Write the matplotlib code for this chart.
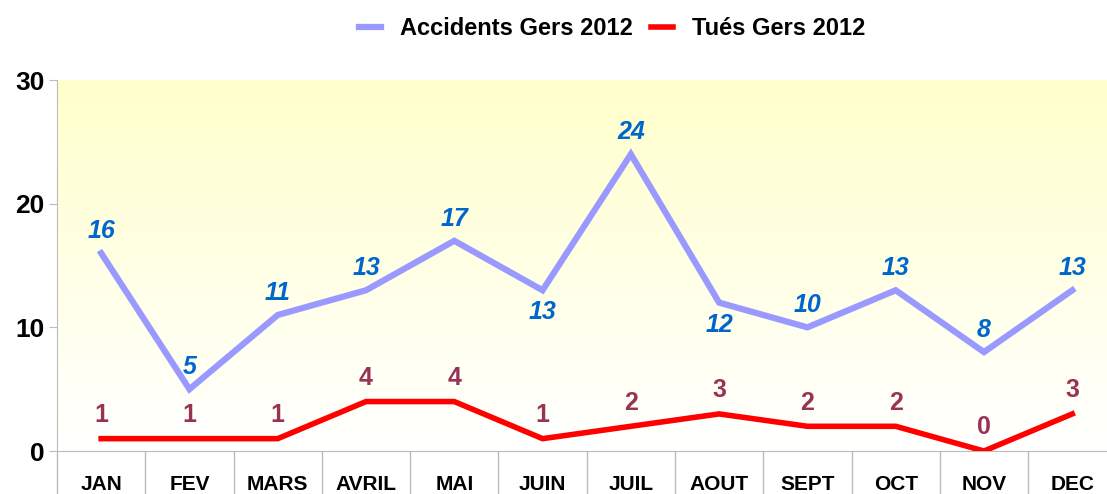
import numpy as np
import matplotlib.pyplot as plt

# Données
mois = ['JAN', 'FEV', 'MARS', 'AVRIL', 'MAI', 'JUIN', 'JUIL', 'AOUT', 'SEPT', 'OCT', 'NOV', 'DEC']
accidents = [16, 5, 11, 13, 17, 13, 24, 12, 10, 13, 8, 13]
tues = [1, 1, 1, 4, 4, 1, 2, 3, 2, 2, 0, 3]
# position des étiquettes des accidents (1 = au-dessus, -1 = en dessous)
pos_acc = [1, 1, 1, 1, 1, -1, 1, -1, 1, 1, 1, 1]

plt.rcParams['font.family'] = ['Liberation Sans', 'DejaVu Sans']

fig = plt.figure(figsize=(11.07, 4.94), dpi=100)
ax = fig.add_axes([0.0515, 0.087, 0.957, 0.751])

x = np.arange(len(mois))
ax.set_xlim(-0.5, len(mois) - 0.5)
ax.set_ylim(0, 30)

# Fond dégradé jaune -> blanc
grad = np.linspace(1, 0, 256).reshape(-1, 1)
cmap = plt.matplotlib.colors.LinearSegmentedColormap.from_list('fond', ['#FFFFFF', '#FFFFCC'])
ax.imshow(grad, extent=[-0.5, len(mois) - 0.5, 0, 30], aspect='auto', cmap=cmap, zorder=0)

l1, = ax.plot(x, accidents, color='#9999FF', lw=4.5, zorder=3, label='Accidents Gers 2012', solid_joinstyle='miter')
l2, = ax.plot(x, tues, color='#FF0000', lw=4, zorder=3, label='Tués Gers 2012', solid_joinstyle='miter')

for xi, v, p in zip(x, accidents, pos_acc):
    ax.annotate(str(v), (xi, v), xytext=(0, 16 * p), textcoords='offset points',
                ha='center', va='center', color='#0066CC', fontsize=18,
                fontweight='bold', fontstyle='italic', zorder=4)
for xi, v in zip(x, tues):
    ax.annotate(str(v), (xi, v), xytext=(0, 17), textcoords='offset points',
                ha='center', va='center', color='#993355', fontsize=18,
                fontweight='bold', zorder=4)

# Axes
ax.set_yticks([0, 10, 20, 30])
ax.tick_params(axis='y', labelsize=19, length=6, color='#BBBBBB', pad=3)
for t in ax.get_yticklabels():
    t.set_fontweight('bold')
ax.set_xticks(x)
ax.set_xticklabels(mois, fontsize=15, fontweight='bold')
ax.tick_params(axis='x', length=0, pad=17)
ax.set_xticks(np.arange(-0.5, len(mois)), minor=True)
ax.tick_params(axis='x', which='minor', length=40, color='#BBBBBB', width=1)

for s in ['top', 'right']:
    ax.spines[s].set_visible(False)
for s in ['left', 'bottom']:
    ax.spines[s].set_color('#BBBBBB')

fig.legend(handles=[l1, l2], loc='upper center', bbox_to_anchor=(0.553, 1.008), ncol=2,
           frameon=False, prop={'weight': 'bold', 'size': 17}, handlelength=0.9,
           columnspacing=0.8, handletextpad=0.8)

fig.savefig('out.png', dpi=100)
